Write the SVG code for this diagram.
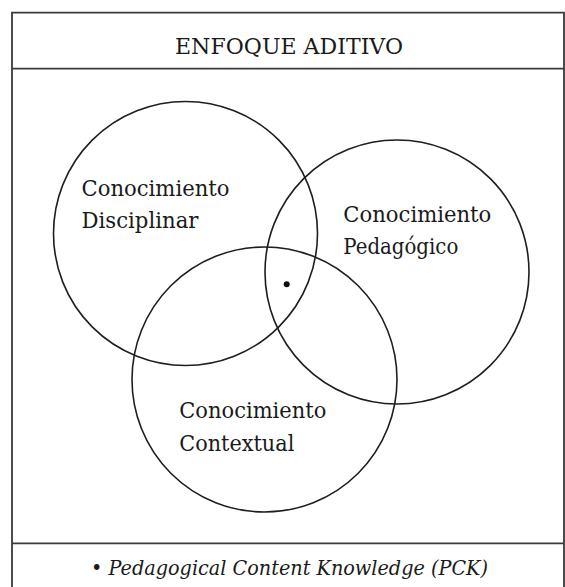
<svg xmlns="http://www.w3.org/2000/svg" width="565" height="587" viewBox="0 0 565 587">
  <style>
    .frame { fill: none; stroke: #3a3a3a; stroke-width: 1.8; }
    .set { fill: none; stroke: #1e1e1e; stroke-width: 1.6; }
    .lbl { font-family: "DejaVu Serif", "Liberation Serif", serif; font-size: 23px; fill: #1a1a1a; }
    .title { font-family: "DejaVu Serif", "Liberation Serif", serif; font-size: 23px; fill: #1a1a1a; }
    .note { font-family: "DejaVu Serif", "Liberation Serif", serif; font-size: 21px; font-style: italic; fill: #1a1a1a; }
  </style>
  <rect width="565" height="587" fill="#ffffff"/>
  <g id="frame">
    <path class="frame" d="M12 600 V12.7 H564 V600 M12 68.7 H564 M12 543.3 H564"/>
  </g>
  <g id="title">
    <text class="title" x="289" y="53.5" text-anchor="middle" textLength="228" lengthAdjust="spacingAndGlyphs">ENFOQUE ADITIVO</text>
  </g>
  <g id="disciplinar">
    <circle class="set" cx="185.5" cy="233.5" r="132"/>
    <text class="lbl" x="81.5" y="195.5" textLength="148" lengthAdjust="spacingAndGlyphs">Conocimiento</text>
    <text class="lbl" x="81.5" y="228" textLength="117" lengthAdjust="spacingAndGlyphs">Disciplinar</text>
  </g>
  <g id="pedagogico">
    <circle class="set" cx="397" cy="272" r="132"/>
    <text class="lbl" x="343.3" y="221.7" textLength="148" lengthAdjust="spacingAndGlyphs">Conocimiento</text>
    <text class="lbl" x="343.3" y="254.3" textLength="115" lengthAdjust="spacingAndGlyphs">Pedagógico</text>
  </g>
  <g id="contextual">
    <circle class="set" cx="264.5" cy="379.5" r="132.5"/>
    <text class="lbl" x="179.3" y="418.3" textLength="147" lengthAdjust="spacingAndGlyphs">Conocimiento</text>
    <text class="lbl" x="179.3" y="450.7" textLength="115" lengthAdjust="spacingAndGlyphs">Contextual</text>
  </g>
  <g id="pck">
    <circle cx="286.7" cy="284.2" r="3" fill="#111"/>
  </g>
  <g id="legend">
    <text class="note" x="91" y="575" textLength="397" lengthAdjust="spacingAndGlyphs">• Pedagogical Content Knowledge (PCK)</text>
  </g>
  <g id="connectors"/>
</svg>
